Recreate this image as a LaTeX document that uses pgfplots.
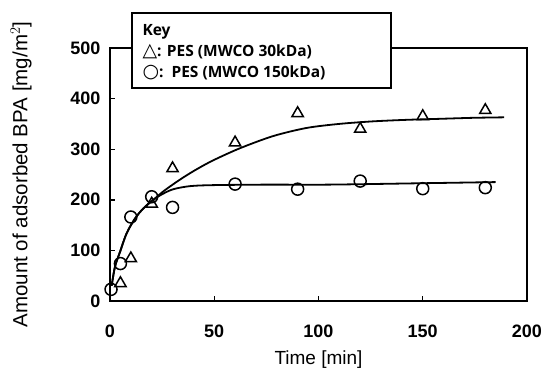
\documentclass[border=0pt]{standalone}
\usepackage{fontspec}
\setmainfont{Liberation Sans}
\newfontfamily\keyfont{Open Sans}
\newfontfamily\symfont{DejaVu Sans}
\usepackage{pgfplots}
\pgfplotsset{compat=1.18}
\begin{document}
\begin{tikzpicture}
\begin{axis}[
  anchor=origin, at={(0pt,0pt)},
  scale only axis, width=417pt, height=253pt,
  xmin=0, xmax=200, ymin=0, ymax=500,
  xtick={0,50,100,150,200}, ytick={0,100,200,300,400,500},
  tick align=inside, xtick pos=bottom, ytick pos=left,
  major tick length=5pt,
  axis line style={line width=1.8pt},
  every tick/.style={line width=1.4pt, black},
  /pgf/number format/assume math mode=true,
  ticklabel style={font=\fontsize{18}{20}\selectfont\bfseries},
  xticklabel style={yshift=-20pt},
  yticklabel style={xshift=-6pt},
  xlabel={Time [min]}, ylabel={Amount of adsorbed BPA [mg/m$^2$]},
  xlabel style={font=\fontsize{19}{21}\selectfont, at={(axis description cs:0.5,-0.2332)}, anchor=center},
  ylabel style={font=\fontsize{20.5}{22}\selectfont, at={(axis description cs:-0.2134,0.5)}, anchor=center},
  clip=false,
]
% fitted curves
\addplot[black, line width=1.8pt, smooth, tension=0.5] coordinates {
 (0.8,30) (2.4,68) (4.8,97) (8,134) (12,163) (16,183) (20.8,200) (26,218) (33.6,240) (41,259) (49.5,278) (62.4,302) (78.3,326) (94.3,342) (110,350) (126,355) (142,358) (158,360) (174,362) (189,363)};
\addplot[black, line width=1.8pt, smooth, tension=0.5] coordinates {
 (0.8,30) (2.4,68) (4.8,97) (8,134) (12,163) (16,183) (20.8,200) (25,211) (30.4,221) (38.4,227) (49.5,229) (75,230) (105,230) (153.5,233) (185,235)};
% data
\addplot[only marks, mark=triangle, mark size=6.5pt, mark options={line width=1.5pt, fill=none}] coordinates {
 (5,35) (10,84) (20,192) (30,262) (60,313) (90,371) (120,340) (150,365) (180,377)};
\addplot[only marks, mark=o, mark size=6pt, mark options={line width=1.5pt, fill=white}] coordinates {
 (0.5,23) (5,74) (10,166) (20,206) (30,185) (60,231) (90,221) (120,237) (150,222) (180,224)};
\end{axis}
\draw[line width=1.8pt, fill=white] (21.7pt,212.7pt) rectangle (280.6pt,287.7pt);
\node[anchor=west, font=\keyfont\fontsize{15.5}{17}\selectfont\bfseries] at (29pt,269pt) {Key};
\node[anchor=west, font=\keyfont\fontsize{15.5}{17}\selectfont\bfseries] at (29pt,249pt) {{\symfont\fontsize{19}{19}\selectfont △}: PES (MWCO 30kDa)};
\node[anchor=west, font=\keyfont\fontsize{15.5}{17}\selectfont\bfseries] at (29pt,228pt) {{\symfont\fontsize{19}{19}\selectfont ○}:\ \ PES (MWCO 150kDa)};
\pgfresetboundingbox
\path[use as bounding box] (-110pt,-69pt) rectangle (432pt,301pt);
\end{tikzpicture}
\end{document}
